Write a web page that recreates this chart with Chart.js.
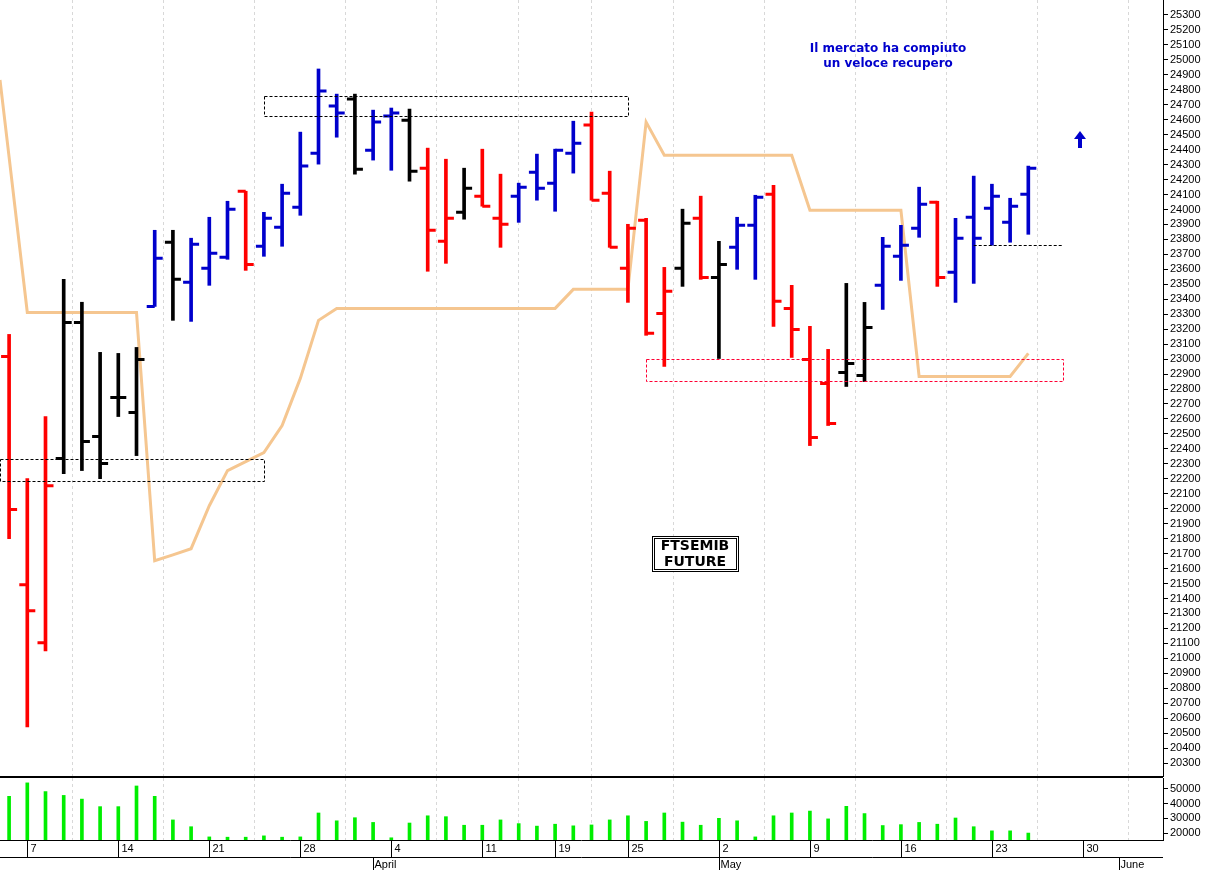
<!DOCTYPE html>
<html>
<head>
<meta charset="utf-8">
<script src="https://cdn.jsdelivr.net/npm/chart.js@4.4.1/dist/chart.umd.min.js"></script>
<style>
  body { margin: 0; background: #fff; }
  #top { position: absolute; left: 0; top: 0; width: 1211px; height: 777px; }
  #bot { position: absolute; left: 0; top: 776px; width: 1211px; height: 94px; }
</style>
</head>
<body>
<div id="top"><canvas id="priceChart"></canvas></div>
<div id="bot"><canvas id="volChart"></canvas></div>
<script>
// trading-day index 0 = 4 March, Mondays get a day label
const dayTicks = [1, 6, 11, 16, 21, 26, 30, 34, 39, 44, 49, 54, 59];
const dayLabels = ['7', '14', '21', '28', '4', '11', '19', '25', '2', '9', '16', '23', '30'];
const monthTicks = [20, 39, 61];
const monthLabels = ['April', 'May', 'June'];

const highs  = [23165,22201,22616,23533,23380,23045,23038,23078,23861,23861,23808,23948,24055,24122,23981,24169,24517,24939,24771,24771,24664,24678,24671,24410,24336,24276,24403,24236,24176,24370,24403,24590,24651,24256,23901,23941,23613,24002,24089,23787,23948,24095,24162,23493,23219,23065,23506,23379,23814,23894,24149,24055,23941,24223,24169,24075,24290];
const lows   = [21800,20541,21050,22235,22255,22201,22616,22355,23352,23259,23252,23493,23667,23593,23687,23754,23961,24303,24483,24236,24330,24262,24189,23587,23640,23935,24022,23747,23914,24062,23988,24243,24062,23747,23379,23159,22951,23486,23533,23004,23600,23533,23219,23011,22422,22556,22817,22850,23332,23526,23814,23486,23379,23506,23761,23781,23834];
const opens  = [23018,21492,21104,22335,23245,22482,22743,22643,23352,23781,23513,23607,23680,24122,23754,23881,24015,24376,24691,24738,24396,24624,24597,24276,23787,23981,24089,23941,24089,24249,24176,24376,24564,24109,23607,23928,23305,23607,23941,23546,23747,23894,24102,23339,22998,22837,22911,22891,23493,23687,23874,24049,23580,23948,24008,23914,24102];
const closes = [21994,21318,22154,23245,22449,22302,22743,22998,23674,23533,23767,23707,24002,23633,23941,24109,24290,24791,24644,24269,24584,24644,24256,23861,23941,24142,24022,23901,24149,24142,24396,24443,24062,23747,23874,23172,23453,23908,23546,23633,23894,24082,23386,23198,22476,22569,22971,23212,23754,23761,24035,23546,23807,23807,24089,24022,24276];
const barColors = 'RRRKKKKKBKBBBRBBBBBKBBKRRKRRBBBBRRRRRKRKBBRRRRKKBBBRBBBBB';

const trendX = [-0.5,0,1,2,3,4,5,6,7,8,9,10,11,12,13,14,15,16,17,18,19,20,21,22,23,24,25,26,27,28,29,30,31,32,33,34,35,36,37,38,39,40,41,42,43,44,45,46,47,48,49,50,51,52,53,54,55,56];
const trendY = [24865,24350,23312,23312,23312,23312,23312,23312,23312,21652,21692,21733,22020,22255,22315,22375,22556,22871,23259,23339,23339,23339,23339,23339,23339,23339,23339,23339,23339,23339,23339,23339,23466,23466,23466,23466,24584,24363,24363,24363,24363,24363,24363,24363,24363,23995,23995,23995,23995,23995,23995,22884,22884,22884,22884,22884,22884,23038];

const volumes = [44900,54000,48100,45500,43000,37900,37900,51900,44900,28900,24300,17400,17200,17200,18100,17200,17400,33600,28300,30400,27200,16800,26800,31700,31100,25300,25300,28900,26400,24700,26000,24900,25500,28900,31700,27900,33600,27400,25300,30000,28300,17400,31700,33600,34900,29600,38100,33200,25100,25700,27200,26000,30200,24300,21500,21500,20000];

// dashed boxes: [x from, x to, price top, price bottom, colour]
const boxes = [
  [14, 34, 24760, 24625, '#000'],
  [-0.5, 14, 22335, 22188, '#000'],
  [35, 57.9, 23004, 22857, '#ff0033']
];
const supportLine = [53, 57.9, 23761];

const colorMap = { R: '#ff0000', B: '#0000cc', K: '#000000' };
const idx = highs.map((_, i) => i);
const cols = idx.map(i => colorMap[barColors[i]]);

const X_MIN = -0.5, X_MAX = 63.4;

function fixY(width) {
  return function (axis) {
    axis.width = width;
    axis.paddingTop = 0;
    axis.paddingBottom = 0;
  };
}

const ohlcTicks = {
  id: 'ohlcTicks',
  afterDatasetsDraw(chart) {
    const { ctx, scales: { x, y } } = chart;
    ctx.save();
    ctx.lineWidth = 3;
    idx.forEach(i => {
      const px = x.getPixelForValue(i);
      ctx.strokeStyle = cols[i];
      ctx.beginPath();
      ctx.moveTo(px - 8, y.getPixelForValue(opens[i]));
      ctx.lineTo(px, y.getPixelForValue(opens[i]));
      ctx.moveTo(px, y.getPixelForValue(closes[i]));
      ctx.lineTo(px + 8, y.getPixelForValue(closes[i]));
      ctx.stroke();
    });
    // dashed boxes
    ctx.lineWidth = 1;
    ctx.setLineDash([3, 2]);
    boxes.forEach(b => {
      const x1 = x.getPixelForValue(b[0]), x2 = x.getPixelForValue(b[1]);
      const y1 = y.getPixelForValue(b[2]), y2 = y.getPixelForValue(b[3]);
      ctx.strokeStyle = b[4];
      ctx.strokeRect(Math.round(x1) + 0.5, Math.round(y1) + 0.5, Math.round(x2 - x1), Math.round(y2 - y1));
    });
    ctx.strokeStyle = '#000';
    ctx.beginPath();
    const sy = Math.round(y.getPixelForValue(supportLine[2])) + 0.5;
    ctx.moveTo(x.getPixelForValue(supportLine[0]), sy);
    ctx.lineTo(x.getPixelForValue(supportLine[1]), sy);
    ctx.stroke();
    ctx.setLineDash([]);

    // comment text
    ctx.fillStyle = '#0000cc';
    ctx.font = 'bold 12px "DejaVu Sans"';
    ctx.textAlign = 'center';
    ctx.textBaseline = 'middle';
    ctx.fillText('Il mercato ha compiuto', 888, 49);
    ctx.fillText('un veloce recupero', 888, 64);

    // arrow
    ctx.beginPath();
    ctx.moveTo(1080, 131);
    ctx.lineTo(1086, 139);
    ctx.lineTo(1082, 139);
    ctx.lineTo(1082, 148);
    ctx.lineTo(1078, 148);
    ctx.lineTo(1078, 139);
    ctx.lineTo(1074, 139);
    ctx.closePath();
    ctx.fill();

    // title box
    ctx.fillStyle = '#fff';
    ctx.fillRect(652, 536, 86, 35);
    ctx.strokeStyle = '#000';
    ctx.strokeRect(652.5, 536.5, 86, 35);
    ctx.strokeRect(654.5, 538.5, 82, 31);
    ctx.fillStyle = '#000';
    ctx.font = 'bold 14px "DejaVu Sans"';
    ctx.fillText('FTSEMIB', 695, 546);
    ctx.fillText('FUTURE', 695, 562);
    ctx.restore();
  }
};

const gridX = {
  type: 'linear', min: X_MIN, max: X_MAX, offset: false,
  afterBuildTicks: a => { a.ticks = dayTicks.map(v => ({ value: v })); },
  afterFit: a => { a.height = 0; a.paddingLeft = 0; a.paddingRight = 0; },
  ticks: { display: false },
  border: { display: false, dash: [3, 3] },
  grid: { color: '#d8d8d8', drawTicks: false, lineWidth: 1 }
};

const yTickFmt = v => String(v);

new Chart(document.getElementById('priceChart'), {
  data: {
    datasets: [
      {
        type: 'bar',
        data: idx.map(i => ({ x: i, y: [lows[i], highs[i]] })),
        backgroundColor: cols,
        barThickness: 3,
        grouped: false
      },
      {
        type: 'line',
        data: trendX.map((v, i) => ({ x: v, y: trendY[i] })),
        borderColor: '#f5c690',
        borderWidth: 3,
        pointRadius: 0,
        tension: 0
      }
    ]
  },
  options: {
    responsive: true,
    maintainAspectRatio: false,
    animation: false,
    layout: { padding: 0 },
    plugins: { legend: { display: false }, tooltip: { enabled: false } },
    scales: {
      x: gridX,
      y: {
        position: 'right', min: 20207, max: 25400,
        afterFit: fixY(48),
        afterBuildTicks: a => {
          const t = [];
          for (let v = 20300; v <= 25300; v += 100) t.push({ value: v });
          a.ticks = t;
        },
        border: { display: true, color: '#000' },
        grid: { drawOnChartArea: false, tickLength: 5, color: '#000' },
        ticks: { color: '#000', font: { family: 'Arial', size: 11 }, padding: 2, autoSkip: false, callback: yTickFmt }
      }
    }
  },
  plugins: [ohlcTicks]
});

const volAxis = {
  id: 'volAxis',
  afterDraw(chart) {
    const { ctx, chartArea, scales: { x } } = chart;
    ctx.save();
    ctx.strokeStyle = '#000';
    ctx.lineWidth = 2;
    ctx.beginPath();
    ctx.moveTo(0, 1);
    ctx.lineTo(1163, 1);
    ctx.stroke();
    ctx.lineWidth = 1;
    ctx.beginPath();
    ctx.moveTo(0, chartArea.bottom + 0.5);
    ctx.lineTo(1163, chartArea.bottom + 0.5);
    ctx.moveTo(0, chartArea.bottom + 17.5);
    ctx.lineTo(1163, chartArea.bottom + 17.5);
    ctx.stroke();
    ctx.fillStyle = '#000';
    ctx.font = '11px Arial';
    ctx.textBaseline = 'middle';
    dayTicks.forEach((v, i) => {
      const px = Math.round(x.getPixelForValue(v)) + 0.5;
      ctx.beginPath();
      ctx.moveTo(px, chartArea.bottom);
      ctx.lineTo(px, chartArea.bottom + 17);
      ctx.stroke();
      ctx.fillText(dayLabels[i], px + 3, chartArea.bottom + 9);
    });
    monthTicks.forEach((v, i) => {
      const px = Math.round(x.getPixelForValue(v)) + 0.5;
      ctx.beginPath();
      ctx.moveTo(px, chartArea.bottom + 17);
      ctx.lineTo(px, chartArea.bottom + 30);
      ctx.stroke();
      ctx.fillText(monthLabels[i], px + 1, chartArea.bottom + 25);
    });
    ctx.restore();
  }
};

new Chart(document.getElementById('volChart'), {
  type: 'bar',
  data: {
    datasets: [{
      data: idx.map(i => ({ x: i, y: volumes[i] })),
      backgroundColor: '#00ee00',
      barThickness: 3
    }]
  },
  options: {
    responsive: true,
    maintainAspectRatio: false,
    animation: false,
    layout: { padding: { top: 2, bottom: 30 } },
    plugins: { legend: { display: false }, tooltip: { enabled: false } },
    scales: {
      x: gridX,
      y: {
        position: 'right', min: 15300, max: 57300,
        afterFit: fixY(48),
        afterBuildTicks: a => { a.ticks = [20000, 30000, 40000, 50000].map(v => ({ value: v })); },
        border: { display: true, color: '#000' },
        grid: { drawOnChartArea: false, tickLength: 5, color: '#000' },
        ticks: { color: '#000', font: { family: 'Arial', size: 11 }, padding: 2, callback: yTickFmt }
      }
    }
  },
  plugins: [volAxis]
});
</script>
</body>
</html>
